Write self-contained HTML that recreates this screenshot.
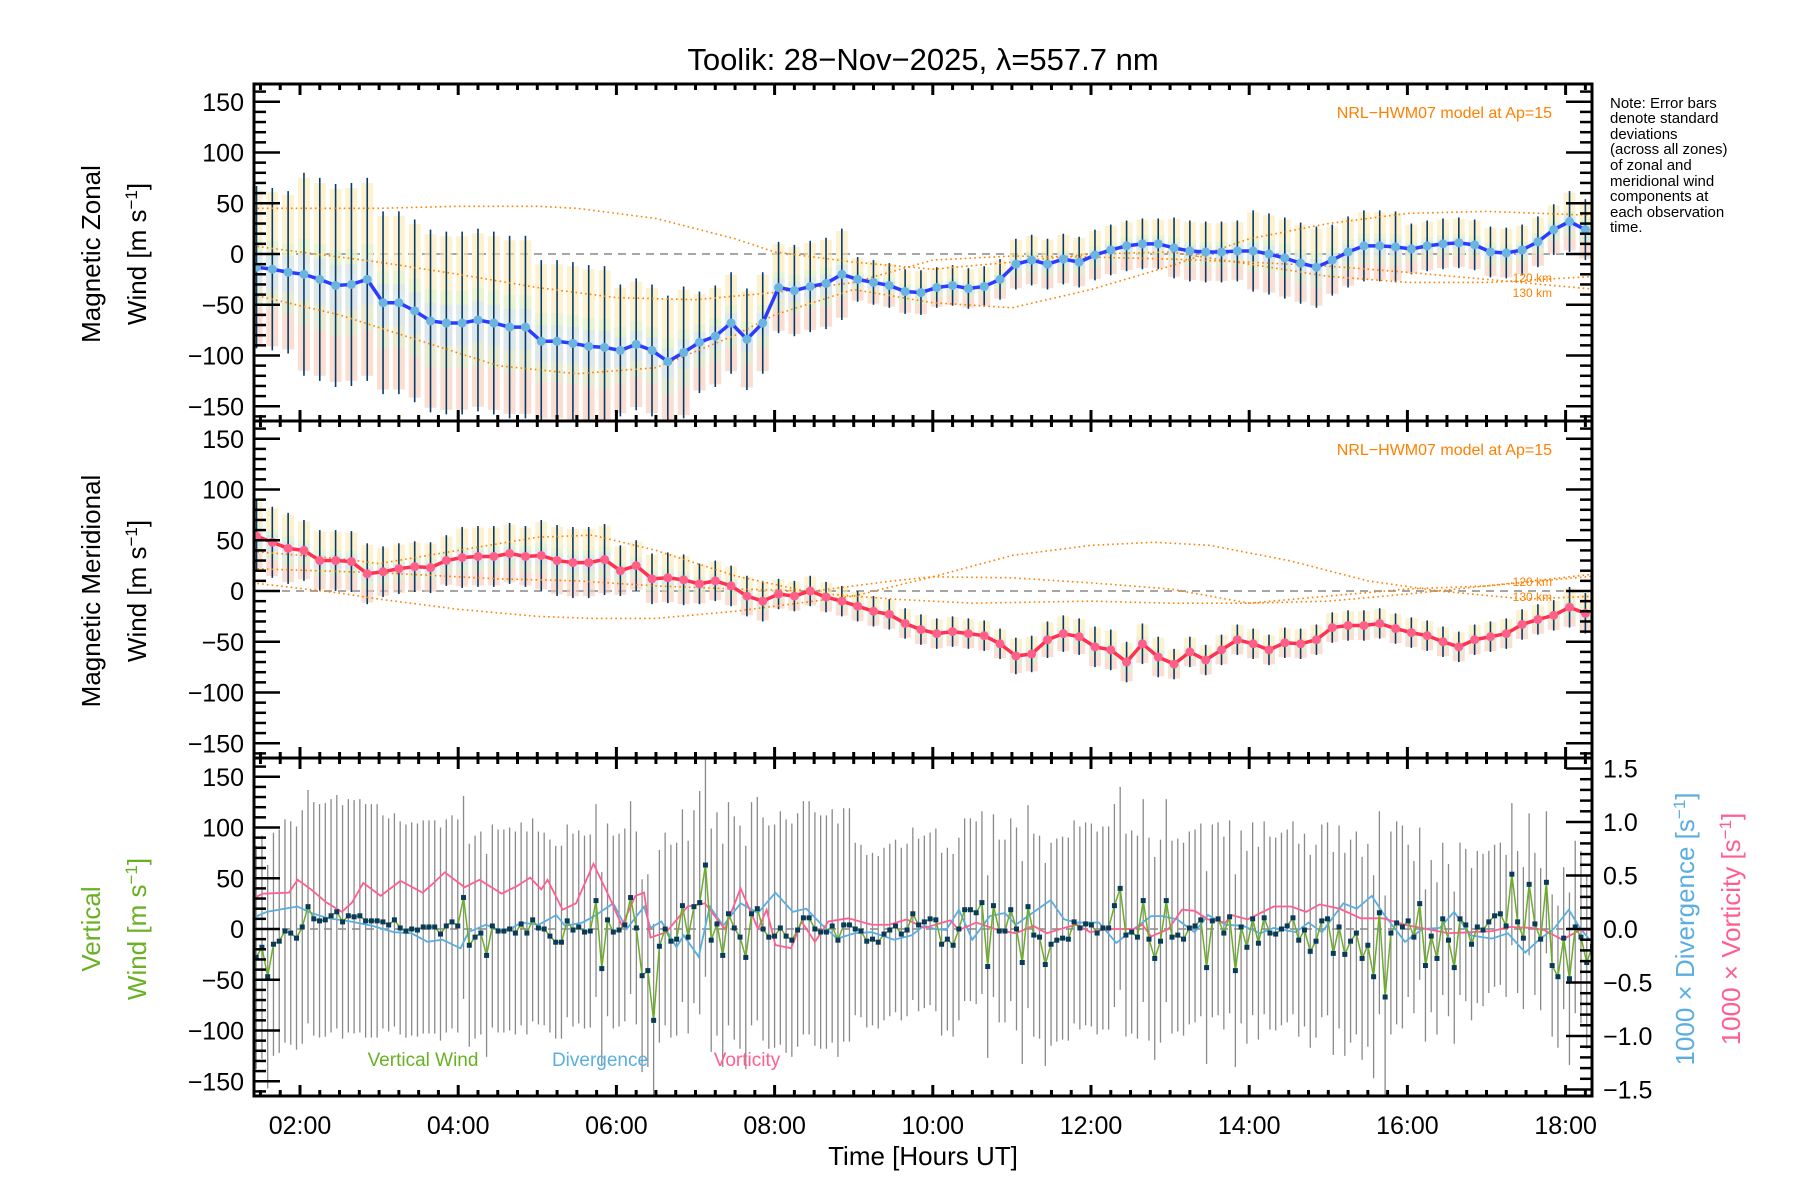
<!DOCTYPE html>
<html><head><meta charset="utf-8"><title>Toolik winds</title>
<style>
html,body{margin:0;padding:0;background:#fff;}
svg{display:block;font-family:"Liberation Sans",sans-serif;}
</style></head>
<body>
<svg id="chart" xmlns="http://www.w3.org/2000/svg" width="1800" height="1200" viewBox="0 0 1800 1200">
<defs>
<clipPath id="c1"><rect x="254" y="84" width="1338" height="337"/></clipPath>
<clipPath id="c2"><rect x="254" y="421" width="1338" height="337"/></clipPath>
<clipPath id="c3"><rect x="254" y="758" width="1338" height="338"/></clipPath>
</defs>
<rect x="0" y="0" width="1800" height="1200" fill="#fff"/>
<text x="923" y="70" font-size="31" text-anchor="middle">Toolik: 28−Nov−2025, λ=557.7 nm</text>
<g id="layer1" clip-path="url(#c1)"></g>
<g id="layer2" clip-path="url(#c2)"></g>
<g id="layer3" clip-path="url(#c3)"></g>
<g id="axes"></g>
<g font-size="26">
<text transform="translate(100,254) rotate(-90)" text-anchor="middle">Magnetic Zonal</text>
<text transform="translate(146,254) rotate(-90)" text-anchor="middle">Wind [m s<tspan baseline-shift="super" font-size="17">−1</tspan>]</text>
</g>
<g font-size="26">
<text transform="translate(100,591) rotate(-90)" text-anchor="middle">Magnetic Meridional</text>
<text transform="translate(146,591) rotate(-90)" text-anchor="middle">Wind [m s<tspan baseline-shift="super" font-size="17">−1</tspan>]</text>
</g>
<g font-size="26" fill="#6ab023">
<text transform="translate(100,929) rotate(-90)" text-anchor="middle">Vertical</text>
<text transform="translate(146,929) rotate(-90)" text-anchor="middle">Wind [m s<tspan baseline-shift="super" font-size="17">−1</tspan>]</text>
</g>
<text transform="translate(1694,929) rotate(-90)" text-anchor="middle" font-size="26" fill="#5aaee0">1000 × Divergence [s<tspan baseline-shift="super" font-size="17">−1</tspan>]</text>
<text transform="translate(1740,929) rotate(-90)" text-anchor="middle" font-size="26" fill="#ff5f8f">1000 × Vorticity [s<tspan baseline-shift="super" font-size="17">−1</tspan>]</text>
<text x="923" y="1165" font-size="26" text-anchor="middle">Time [Hours UT]</text>
<g font-size="15">
<text x="1610" y="108">Note: Error bars</text>
<text x="1610" y="123">denote standard</text>
<text x="1610" y="139">deviations</text>
<text x="1610" y="154">(across all zones)</text>
<text x="1610" y="170">of zonal and</text>
<text x="1610" y="186">meridional wind</text>
<text x="1610" y="201">components at</text>
<text x="1610" y="217">each observation</text>
<text x="1610" y="232">time.</text>
</g>
<text x="1552" y="118" font-size="16" fill="#ff8000" text-anchor="end">NRL−HWM07 model at Ap=15</text>
<text x="1552" y="455" font-size="16" fill="#ff8000" text-anchor="end">NRL−HWM07 model at Ap=15</text>
<text x="1552" y="282" font-size="12" fill="#ff8000" text-anchor="end">120 km</text>
<text x="1552" y="297" font-size="12" fill="#ff8000" text-anchor="end">130 km</text>
<text x="1552" y="586" font-size="12" fill="#ff8000" text-anchor="end">120 km</text>
<text x="1552" y="601" font-size="12" fill="#ff8000" text-anchor="end">130 km</text>
<text x="423" y="1066" font-size="19" fill="#6ab023" text-anchor="middle">Vertical Wind</text>
<text x="600" y="1066" font-size="19" fill="#5aaee0" text-anchor="middle">Divergence</text>
<text x="747" y="1066" font-size="19" fill="#ff5f8f" text-anchor="middle">Vorticity</text>
</svg>
<script>
// ---------- data ----------
const meanStart = 1.45;
const meanStep = 0.2;
const zonalMean = [-13,-15,-18,-20,-25,-31,-30,-25,-48,-48,-56,-66,-68,-68,-65,-68,-72,-72,-86,-86,-88,-91,-92,-95,-89,-95,-106,-97,-87,-81,-68,-84,-68,-33,-36,-32,-29,-20,-25,-28,-31,-37,-38,-33,
-31,-34,-32,-25,-10,-6,-10,-5,-8,-1,4,8,10,10,6,3,2,2,3,3,0,-4,-9,-13,-6,2,8,8,7,5,8,10,11,9,2,1,4,12,24,32,24];
const meridMean = [54,48,42,40,30,30,29,17,19,22,24,23,30,33,34,34,37,34,35,30,28,28,31,20,25,12,13,11,7,10,5,-5,-10,-3,-5,0,-6,-10,-15,-20,-23,-32,-38,-42,
-40,-42,-44,-52,-64,-62,-48,-42,-45,-55,-58,-70,-52,-65,-72,-60,-68,-58,-48,-52,-58,-51,-52,-48,-36,-34,-34,-32,-37,-41,-44,-50,-55,-48,-45,-42,-33,-28,-24,-16,-22];
const errHours = [1,2,3,4,5,6,7,8,9,10,11,12,13,14,15,16,17,18];
const zonalErr = [80,100,90,90,80,65,50,45,22,20,25,25,30,40,35,25,25,30];
const meridErr = [35,30,25,30,35,25,20,15,15,15,18,20,15,15,15,15,15,20];
const vwErr = [110,115,105,100,95,95,110,115,85,90,100,100,95,95,100,75,70,85];

const modelT_A = [1.4,3,4,5,5.5,6.5,7.5,8,9,10,11,12,13,14,15,16,17,18.4];
const modelZ_A = [45,45,47,47,45,35,15,2,-8,-15,-8,0,2,-10,-22,-28,-28,-22];
const modelT_B = [1.4,3,4,5,6,7,8,9,10,11,12,13,14,15,16,17,18.4];
const modelZ_B = [8,-8,-20,-33,-43,-45,-38,-28,-6,-2,-3,-5,-8,-12,-18,-25,-35];
const modelT_C = [1.4,2.5,3.5,4.5,5.5,6.5,7.5,8,9,10,11,12,13,14,15,16,17,18.4];
const modelZ_C = [-40,-60,-85,-110,-118,-112,-80,-60,-35,-48,-53,-35,-12,15,30,40,42,38];
const modelT_L1 = [1.4,2.5,3,4,5,5.7,6.5,7.5,8.5,9.5,10.5,12,13,14,15,16,17,18.4];
const modelM_L1 = [39,32,27,40,53,55,40,15,-2,-8,-12,-10,-12,-12,-5,2,5,15];
const modelT_L2 = [1.4,3,4.5,5.5,6.5,7.5,8.5,9.5,10,11,12,13,14,15,16,17,18.4];
const modelM_L2 = [22,18,12,10,5,2,0,10,14,13,8,2,-12,-10,-3,5,17];
const modelT_L3 = [1.4,2.5,3,4,5,5.7,6.5,7.5,8,9,10,11,12,12.8,13.5,14.5,15.5,16.4,17.5,18.4];
const modelM_L3 = [8,-2,-8,-18,-25,-27,-27,-20,-15,-5,14,35,45,48,45,30,10,0,-8,-5];

const vwStart = 1.446;
const vwEnd = 18.34;
const vertWind = [-28,-18,-47,-15,-12,-2,-4,-9,2,22,10,8,9,13,17,7,13,12,13,8,8,8,7,4,9,1,-2,0,-1,2,2,2,-5,3,7,3,31,-16,-8,-4,
-26,3,-2,-2,0,-4,5,-4,9,1,0,-7,-13,-13,8,-1,2,-3,-2,28,-39,9,-3,-1,4,31,1,-46,-41,-90,-17,0,-12,-10,23,-8,22,26,63,-11,
5,-26,15,1,-8,-28,15,20,0,-8,-7,1,-7,-11,-1,11,11,0,-3,-3,3,-11,4,4,0,-2,-12,-10,-13,-5,-1,3,-5,-1,15,4,7,10,
9,-15,-10,-16,0,19,19,16,26,-37,23,-2,-2,19,0,-33,22,-6,-8,-35,-15,-11,-9,-10,7,1,5,4,-4,1,1,23,40,-6,-3,-8,28,-10,-29,-12,
28,-8,-6,-10,1,3,9,-38,8,10,-4,12,-41,2,-18,10,-14,11,-4,-5,0,3,11,-11,-1,-22,-12,8,10,-24,2,-25,-12,-4,-29,-16,-47,16,-67,-4,
6,2,8,-8,25,-36,-7,-29,10,-11,-38,10,4,-15,2,-1,7,13,15,3,54,7,-9,44,5,-10,46,-36,-47,-9,-49,2,-8,-33,-17];

const divT = [1.36,1.58,1.81,1.97,2.14,2.36,2.64,2.91,3.19,3.41,3.61,3.80,4.03,4.13,4.35,4.58,4.80,5.02,5.24,5.35,5.57,5.74,5.96,6.13,6.35,6.43,6.57,6.76,6.85,7.04,7.18,7.35,7.57,7.79,8.01,8.23,8.40,8.57,8.79,9.01,9.23,9.51,9.73,9.89,10.03,
10.17,10.33,10.50,10.72,10.91,11.05,11.22,11.49,11.66,11.82,12.10,12.32,12.54,12.76,12.90,13.09,13.31,13.48,13.70,13.92,14.14,14.31,14.59,14.75,14.92,15.19,15.36,15.55,15.69,15.97,16.19,16.41,16.59,16.80,17.07,17.27,17.49,17.68,17.85,18.04,18.18,18.34];
const divV = [0.09,0.16,0.19,0.21,0.15,0.1,0.07,0.03,-0.03,-0.04,-0.12,-0.1,-0.18,-0.03,0.04,-0.03,0.06,0.04,0.13,0.03,0.06,0.13,0.24,0,0.21,0.01,0.07,-0.17,-0.06,-0.26,0.21,0.03,0.24,0.15,0.34,0.16,0.19,0.06,-0.09,-0.04,-0.03,-0.1,-0.06,0.03,0,
-0.01,0.18,-0.1,0.12,0.15,0.04,0.13,0.27,0.09,0.06,0.06,-0.13,0,0.12,0.12,0.09,-0.03,0.13,0.04,0.03,-0.04,0.01,-0.03,0.06,-0.03,0.24,0.19,0.31,0.15,-0.12,0,0.01,0.16,-0.06,-0.09,-0.04,-0.22,-0.09,0,0.18,0.01,-0.13];
const vorT = [1.36,1.53,1.86,1.97,2.14,2.33,2.53,2.66,2.80,3.02,3.27,3.55,3.69,3.83,4.08,4.27,4.55,4.74,4.91,5.05,5.13,5.32,5.49,5.71,5.91,6.07,6.24,6.35,6.43,6.63,6.90,7.12,7.37,7.57,7.79,7.90,8.01,8.21,8.34,8.51,8.68,8.93,9.23,9.45,9.67,9.89,
10.22,10.33,10.55,10.83,11.05,11.27,11.44,11.66,11.82,11.99,12.21,12.54,12.65,12.76,12.98,13.15,13.31,13.48,13.70,13.78,13.98,14.31,14.53,14.72,14.89,15.14,15.41,15.69,15.97,16.24,16.52,16.80,17.07,17.29,17.57,17.73,17.96,18.18,18.34];
const vorV = [0.27,0.33,0.34,0.46,0.37,0.25,0.16,0.25,0.43,0.31,0.45,0.34,0.43,0.53,0.39,0.46,0.33,0.4,0.48,0.37,0.46,0.18,0.24,0.61,0.3,0.03,0.31,0.34,-0.08,-0.03,0.21,0.24,0,0.38,0,0.18,-0.15,-0.18,0.07,-0.12,0.07,0.1,0.04,0.04,0.09,0.01,
0.08,-0.01,0.06,-0.01,-0.04,0.03,-0.04,0.01,0.04,-0.03,0,0,0.04,-0.07,0,0.18,0.17,0.09,0.06,0.13,0.09,0.21,0.21,0.16,0.23,0.19,0.1,0.1,0.04,0,-0.04,-0.03,-0.02,0.02,0.01,-0.01,-0.1,-0.01,-0.01];

const xTickLabels = ['02:00','04:00','06:00','08:00','10:00','12:00','14:00','16:00','18:00'];
const xTickHours = [2,4,6,8,10,12,14,16,18];
const yTickValues = [150,100,50,0,-50,-100,-150];
const y2TickValues = [1.5,1.0,0.5,0.0,-0.5,-1.0,-1.5];

// ---------- axes functions ----------
const NS = 'http://www.w3.org/2000/svg';
const PL = 254, PR = 1592;
const panelTop = [84, 421, 758];
const panelBot = [421, 758, 1096];
const zeroY = [254, 591, 929];
const YS = 1.015;
function xOf(t){ return 300 + (t - 2) * 79.1; }
function yOf(p, v){ return zeroY[p] - v * YS; }
function y2Of(v){ return 929 - v * 107; }
function fmt(v){ return (v < 0 ? '\u2212' : '') + Math.abs(v); }
function errAt(arr, t){ let h = Math.floor(t); let i = errHours.indexOf(h); if (i < 0) i = h < 1 ? 0 : arr.length - 1; return arr[i]; }
function mk(tag, parent){ const e = document.createElementNS(NS, tag); parent.appendChild(e); return e; }

const L = [document.getElementById('layer1'), document.getElementById('layer2'), document.getElementById('layer3')];
const axes = document.getElementById('axes');

for (let p = 0; p < 3; p++) {
  const z = mk('line', L[p]);
  
  
  z.setAttribute('x1', PL); z.setAttribute('x2', PR);
  z.setAttribute('y1', yOf(p, 0)); z.setAttribute('y2', yOf(p, 0));
  z.setAttribute('stroke', '#888'); z.setAttribute('stroke-width', '1.5'); z.setAttribute('stroke-dasharray', '8 6');
}

function windPanel(p, mean, errArr, nm) {
  const bands = [['#fbe9b0', 0.1, 0.95], ['#f9c8b4', -0.95, 0.0], ['#ddf4cf', -0.5, 0.35], ['#d5e2f8', -0.25, 0.2]];
  for (let i = 0; i < mean.length; i++) {
    const t = meanStart + i * meanStep;
    const e = errAt(errArr, t);
    for (const b of bands) {
      const r = mk('rect', L[p]);
      
      
      const y1 = yOf(p, mean[i] + e * b[2]), y2 = yOf(p, mean[i] + e * b[1]);
      r.setAttribute('x', xOf(t) - 6); r.setAttribute('width', 12);
      r.setAttribute('y', y1); r.setAttribute('height', Math.max(1, y2 - y1));
      r.setAttribute('fill', b[0]); r.setAttribute('opacity', '0.6');
    }
  }
  for (let i = 0; i < mean.length; i++) {
    const t = meanStart + i * meanStep;
    const e = errAt(errArr, t);
    const l = mk('line', L[p]);
    
    
    l.setAttribute('x1', xOf(t)); l.setAttribute('x2', xOf(t));
    l.setAttribute('y1', yOf(p, mean[i] + e)); l.setAttribute('y2', yOf(p, mean[i] - e));
    l.setAttribute('stroke', '#0a3a66'); l.setAttribute('stroke-width', '1.6');
  }
}
windPanel(0, zonalMean, zonalErr, 'zonal');
windPanel(1, meridMean, meridErr, 'meridional');

function modelLine(p, ts, vs, nm) {
  const pl = mk('polyline', L[p]);
  
  
  pl.setAttribute('points', ts.map((t, i) => xOf(t) + ',' + yOf(p, vs[i])).join(' '));
  pl.setAttribute('fill', 'none'); pl.setAttribute('stroke', '#ff8000');
  pl.setAttribute('stroke-width', '1.6'); pl.setAttribute('stroke-dasharray', '1.6 3.2');
}
modelLine(0, modelT_A, modelZ_A, 'model-zonal-a');
modelLine(0, modelT_B, modelZ_B, 'model-zonal-b');
modelLine(0, modelT_C, modelZ_C, 'model-zonal-c');
modelLine(1, modelT_L1, modelM_L1, 'model-meridional-a');
modelLine(1, modelT_L2, modelM_L2, 'model-meridional-b');
modelLine(1, modelT_L3, modelM_L3, 'model-meridional-c');

function meanLine(p, mean, lineCol, dotCol, nm) {
  const pl = mk('polyline', L[p]);
  
  
  pl.setAttribute('points', mean.map((v, i) => xOf(meanStart + i * meanStep) + ',' + yOf(p, v)).join(' '));
  pl.setAttribute('fill', 'none'); pl.setAttribute('stroke', lineCol); pl.setAttribute('stroke-width', '3.5');
  for (let i = 0; i < mean.length; i++) {
    const c = mk('circle', L[p]);
    
    
    c.setAttribute('cx', xOf(meanStart + i * meanStep)); c.setAttribute('cy', yOf(p, mean[i]));
    c.setAttribute('r', '4.5'); c.setAttribute('fill', dotCol);
  }
}
meanLine(0, zonalMean, '#2a3cff', '#6ab4e0', 'zonal');
meanLine(1, meridMean, '#ff3050', '#ff6088', 'meridional');

const vwStep = (vwEnd - vwStart) / (vertWind.length - 1);
for (let i = 0; i < vertWind.length; i++) {
  const t = vwStart + i * vwStep;
  const e = errAt(vwErr, t);
  const l = mk('line', L[2]);
  
  
  l.setAttribute('x1', xOf(t)); l.setAttribute('x2', xOf(t));
  l.setAttribute('y1', yOf(2, vertWind[i] + e)); l.setAttribute('y2', yOf(2, vertWind[i] - e));
  l.setAttribute('stroke', '#8a8a8a'); l.setAttribute('stroke-width', '1.3');
}
function seriesLine(ts, vs, col, nm, w) {
  const pl = mk('polyline', L[2]);
  
  
  pl.setAttribute('points', ts.map((t, i) => xOf(t) + ',' + y2Of(vs[i])).join(' '));
  pl.setAttribute('fill', 'none'); pl.setAttribute('stroke', col); pl.setAttribute('stroke-width', w);
}
seriesLine(divT, divV, '#5aaee0', 'divergence-line', 1.8);
seriesLine(vorT, vorV, '#ff5f8f', 'vorticity-line', 1.8);
const vwl = mk('polyline', L[2]);


vwl.setAttribute('points', vertWind.map((v, i) => xOf(vwStart + i * vwStep) + ',' + yOf(2, v)).join(' '));
vwl.setAttribute('fill', 'none'); vwl.setAttribute('stroke', '#6ab023'); vwl.setAttribute('stroke-width', '1.5');
for (let i = 0; i < vertWind.length; i++) {
  const r = mk('rect', L[2]);
  
  
  r.setAttribute('x', xOf(vwStart + i * vwStep) - 2.5); r.setAttribute('y', yOf(2, vertWind[i]) - 2.5);
  r.setAttribute('width', 5); r.setAttribute('height', 5); r.setAttribute('fill', '#0a3a5a');
}

function ln(x1, y1, x2, y2, w, nm) {
  const l = mk('line', axes);
  
  
  l.setAttribute('x1', x1); l.setAttribute('y1', y1); l.setAttribute('x2', x2); l.setAttribute('y2', y2);
  l.setAttribute('stroke', '#000'); l.setAttribute('stroke-width', w);
}
for (let p = 0; p < 3; p++) {
  const fr = mk('rect', axes);
  
  
  fr.setAttribute('x', PL); fr.setAttribute('y', panelTop[p]);
  fr.setAttribute('width', PR - PL); fr.setAttribute('height', panelBot[p] - panelTop[p]);
  fr.setAttribute('fill', 'none'); fr.setAttribute('stroke', '#000'); fr.setAttribute('stroke-width', '3');
  for (let v = -160; v <= 160; v += 10) {
    const y = yOf(p, v);
    if (y < panelTop[p] + 2 || y > panelBot[p] - 2) continue;
    const len = (v % 50 === 0) ? 26 : 12;
    ln(PL, y, PL + len, y, 2.5, 'y-tick');
    if (p < 2) ln(PR, y, PR - len, y, 2.5, 'y-tick-right');
  }
  for (let q = 1.5; q <= 18.3; q += 0.25) {
    const x = xOf(q);
    if (x < PL + 2 || x > PR - 2) continue;
    const major = Math.abs(q / 2 - Math.round(q / 2)) < 1e-6;
    const len = major ? 11 : 6;
    ln(x, panelTop[p], x, panelTop[p] + len, 3, 'x-tick');
    ln(x, panelBot[p], x, panelBot[p] - len, 3, 'x-tick');
  }
  for (const v of yTickValues) {
    const t = mk('text', axes);
    
    
    t.setAttribute('x', 244); t.setAttribute('y', yOf(p, v) + 9);
    t.setAttribute('text-anchor', 'end'); t.setAttribute('font-size', '25');
    t.textContent = fmt(v);
  }
}
for (let k = -15; k <= 15; k++) {
  const v = k / 10;
  const len = (k % 5 === 0) ? 26 : 12;
  ln(PR, y2Of(v), PR - len, y2Of(v), 2.5, 'y2-tick');
}
for (const v of y2TickValues) {
  const t = mk('text', axes);
  
  
  t.setAttribute('x', 1603); t.setAttribute('y', y2Of(v) + 9);
  t.setAttribute('font-size', '25');
  t.textContent = (v < 0 ? '\u2212' : '') + Math.abs(v).toFixed(1);
}
xTickHours.forEach((h, i) => {
  const t = mk('text', axes);
  
  
  t.setAttribute('x', xOf(h)); t.setAttribute('y', 1134);
  t.setAttribute('text-anchor', 'middle'); t.setAttribute('font-size', '25');
  t.textContent = xTickLabels[i];
});
</script>
</body></html>
